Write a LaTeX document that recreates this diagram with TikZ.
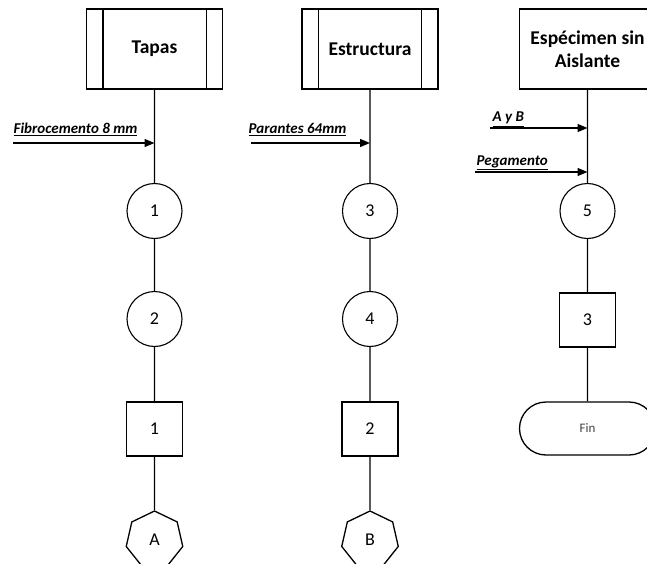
\documentclass[tikz,border=0pt]{standalone}
\usepackage{fontspec}
\setmainfont{Carlito}
\usetikzlibrary{shapes.geometric,shapes.misc,arrows.meta}
\begin{document}
\begin{tikzpicture}[x=1pt,y=-1pt,line width=1.3pt,
  proc/.style={draw,rectangle,minimum width=136pt,minimum height=80pt,inner sep=0pt,align=center,font=\fontsize{19.5}{23}\selectfont\bfseries},
  opcirc/.style={draw,circle,minimum size=55pt,inner sep=0pt,line width=1.1pt,font=\fontsize{18}{20}\selectfont},
  insp/.style={draw,rectangle,minimum width=56pt,minimum height=54pt,inner sep=0pt,font=\fontsize{18}{20}\selectfont},
  conn/.style={draw,regular polygon,regular polygon sides=7,minimum size=58pt,inner sep=0pt,font=\fontsize{18}{20}\selectfont},
  term/.style={draw,rounded rectangle,minimum width=136pt,minimum height=53pt,inner sep=0pt,font=\fontsize{13}{15}\selectfont,text=black!75},
  inlab/.style={anchor=base west,inner sep=0pt,font=\fontsize{15}{17}\selectfont\bfseries\itshape},
  feed/.style={-{Triangle[length=10pt,width=8pt]}}]
\useasboundingbox (0,0) rectangle (647,564);
% column 1
\node[proc] (t) at (154.5,49) {Tapas};
\draw ([xshift=17pt]t.north west) -- ([xshift=17pt]t.south west);
\draw ([xshift=-17pt]t.north east) -- ([xshift=-17pt]t.south east);
\node[opcirc] (c1) at (154.5,211) {1};
\node[opcirc] (c2) at (154.5,319) {2};
\node[insp] (s1) at (154.5,429) {1};
\node[conn] (hA) at (154.5,540) {A};
\draw (t) -- (c1) -- (c2) -- (s1) -- (hA);
\coordinate (f1) at (154.5,143);
\coordinate (f1s) at (13,143);
\node[inlab] (l1) at (13,134) {\underline{Fibrocemento 8 mm}};
\draw[feed] (f1s) -- (f1);
% column 2
\node[proc] (e) at (370,49) {Estructura};
\draw ([xshift=17pt]e.north west) -- ([xshift=17pt]e.south west);
\draw ([xshift=-17pt]e.north east) -- ([xshift=-17pt]e.south east);
\node[opcirc] (c3) at (370,211) {3};
\node[opcirc] (c4) at (370,319) {4};
\node[insp] (s2) at (370,429) {2};
\node[conn] (hB) at (370,540) {B};
\draw (e) -- (c3) -- (c4) -- (s2) -- (hB);
\coordinate (f2) at (370,143);
\coordinate (f2s) at (251,143);
\node[inlab] (l2) at (248,134) {\underline{Parantes 64mm}};
\draw[feed] (f2s) -- (f2);
% column 3
\node[proc] (s) at (587.5,49) {Espécimen sin\\Aislante};
\node[opcirc] (c5) at (587.5,211) {5};
\node[insp] (s3) at (587.5,320) {3};
\node[term] (fin) at (587.5,428.5) {Fin};
\draw (s) -- (c5) -- (s3) -- (fin);
\coordinate (f3) at (587.5,128);
\coordinate (f3s) at (490,128);
\node[inlab] (l3) at (492,122) {\underline{A y B}};
\draw[feed] (f3s) -- (f3);
\coordinate (f4) at (587.5,172);
\coordinate (f4s) at (475,172);
\node[inlab] (l4) at (476,165) {\underline{Pegamento}};
\draw[feed] (f4s) -- (f4);
\end{tikzpicture}
\end{document}
